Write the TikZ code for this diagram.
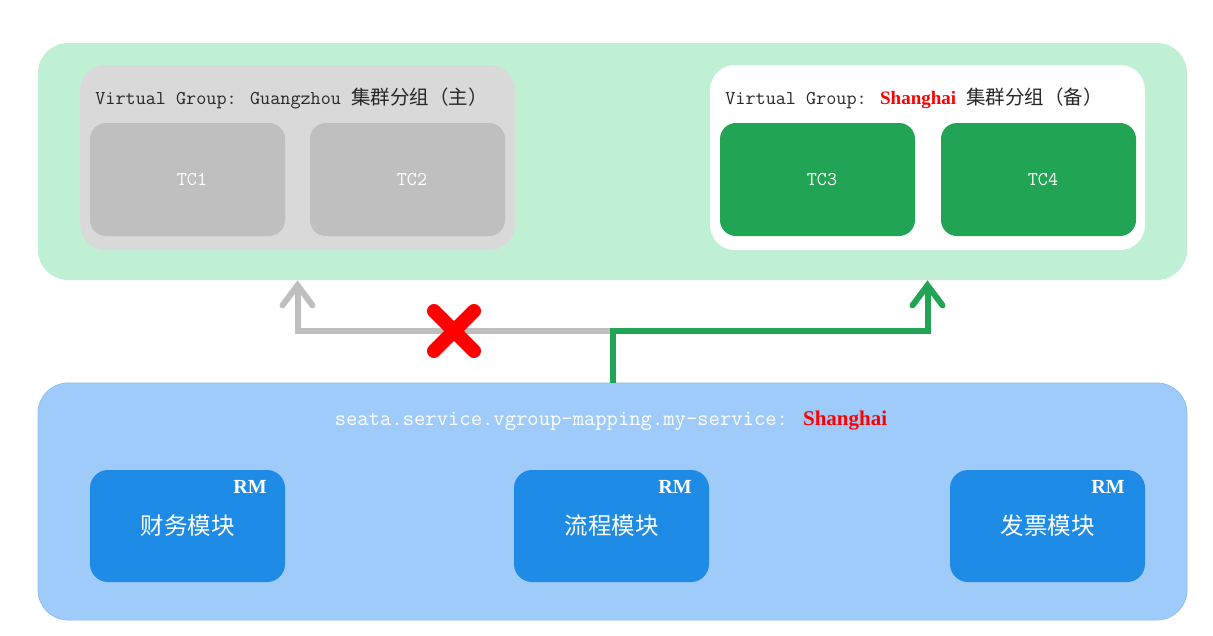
\documentclass[tikz,border=0pt]{standalone}
\usepackage{fontspec}
\setmainfont{Liberation Serif}
\newfontfamily\cjk{Noto Sans CJK SC}
\usetikzlibrary{arrows.meta}

\definecolor{paleGreen}{RGB}{192,240,212}
\definecolor{groupGray}{RGB}{217,217,217}
\definecolor{tcGray}{RGB}{191,191,191}
\definecolor{tcGreen}{RGB}{33,164,83}
\definecolor{paleBlue}{RGB}{159,203,250}
\definecolor{edgeBlue}{RGB}{140,190,242}
\definecolor{rmBlue}{RGB}{30,139,230}
\definecolor{labelInk}{RGB}{40,40,40}

\tikzset{every picture/.style={line width=0.75pt}}

\begin{document}
\begin{tikzpicture}[x=1pt,y=1pt,yscale=-1,xscale=1,
	tcbox/.style={rounded corners=16, minimum width=195, minimum height=113, inner sep=0, text=white, font=\ttfamily\fontsize{19.5}{22}\selectfont},
	rmbox/.style={rounded corners=18, fill=rmBlue, minimum width=195, minimum height=112, inner sep=0, text=white, font=\cjk\fontsize{23.5}{26}\selectfont},
	rmtag/.style={anchor=center, inner sep=0, text=white, font=\bfseries\fontsize{20}{22}\selectfont},
	grouplabel/.style={anchor=west, inner sep=0, text=labelInk, font=\ttfamily\fontsize{19.6}{22}\selectfont},
	pathline/.style={line width=6, line join=miter, -{Straight Barb[length=20, width=30, line cap=round]}}]
	\useasboundingbox (0,0) rectangle (1213,635);
	
	% TC cluster
	\node [fill=paleGreen, rounded corners=30, minimum width=1149, minimum height=237, inner sep=0] (cluster) at (612.5,161.5) {};
	\node [fill=groupGray, rounded corners=25, minimum width=435, minimum height=185, inner sep=0] (gz) at (297.5,157.5) {};
	\node [fill=white, rounded corners=25, minimum width=435, minimum height=185, inner sep=0] (sh) at (927.5,157.5) {};
	\node [grouplabel] (gzLabel) at (95,98) {Virtual Group: Guangzhou {\cjk\fontsize{19.5}{20}\selectfont 集群分组（主）}};
	\node [grouplabel] (shLabel) at (725,98) {Virtual Group: {\rmfamily\bfseries\color{red}\fontsize{19}{20}\selectfont Shanghai} {\cjk\fontsize{19.5}{20}\selectfont 集群分组（备）}};
	\node [tcbox, fill=tcGray] (tc1) at (187.5,179.5) {\hspace*{9pt}TC1};
	\node [tcbox, fill=tcGray] (tc2) at (407.5,179.5) {\hspace*{9pt}TC2};
	\node [tcbox, fill=tcGreen] (tc3) at (817.5,179.5) {\hspace*{9pt}TC3};
	\node [tcbox, fill=tcGreen] (tc4) at (1038.5,179.5) {\hspace*{9pt}TC4};
	
	% application side
	\node [fill=paleBlue, draw=edgeBlue, rounded corners=30, minimum width=1149, minimum height=237, inner sep=0] (map) at (612.5,501.5) {};
	\node [inner sep=0, text=white, font=\ttfamily\fontsize{22}{24}\selectfont] (mapLabel) at (611,421) {seata.service.vgroup-mapping.my-service: {\rmfamily\bfseries\color{red}\fontsize{21}{22}\selectfont Shanghai}};
	\node [rmbox] (rm1) at (187.5,526) {财务模块};
	\node [rmbox] (rm2) at (611.5,526) {流程模块};
	\node [rmbox] (rm3) at (1047.5,526) {发票模块};
	\node [rmtag] (rm1Tag) at (250,487) {RM};
	\node [rmtag] (rm2Tag) at (675,487) {RM};
	\node [rmtag] (rm3Tag) at (1108,487) {RM};
	
	% routing
	\coordinate (fork) at (612.5,331);
	\draw [pathline, tcGray] (fork) -| (gz.south |- cluster.south);
	\draw [pathline, tcGreen] (map.north) -- (fork) -| (sh.south |- cluster.south);
	\draw [red, line width=14, line cap=round] (434,311) -- (474,351) (474,311) -- (434,351);
	
\end{tikzpicture}
\end{document}
